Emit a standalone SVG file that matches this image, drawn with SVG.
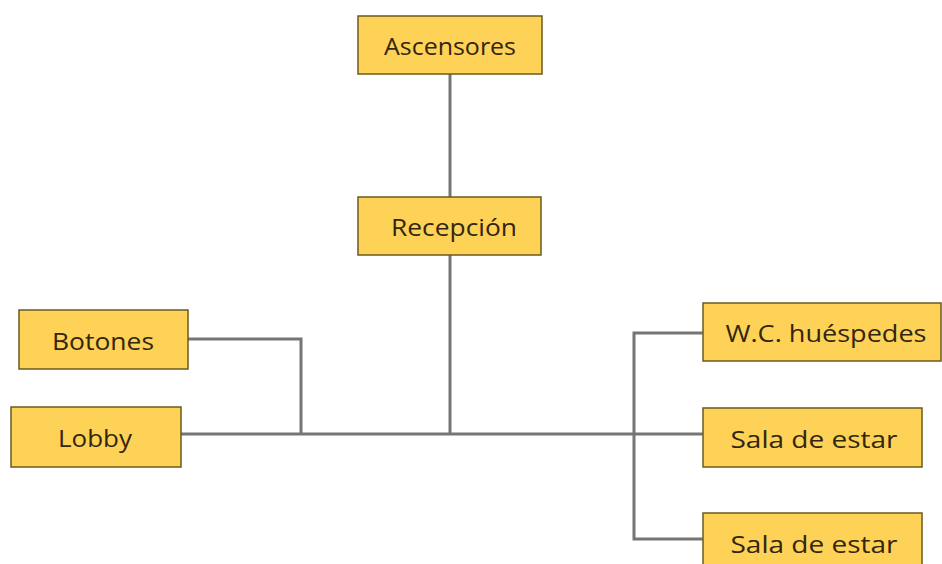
<svg xmlns="http://www.w3.org/2000/svg" width="942" height="564" viewBox="0 0 942 564">
<style>
.box{fill:#FDD257;stroke:#6b5a1e;stroke-width:1.5}
.lbl{font-family:"Open Sans","Liberation Sans",sans-serif;font-size:24px;fill:#33260f;text-anchor:middle;dominant-baseline:central}
.ln{fill:none;stroke:#757575;stroke-width:3}
</style>
<rect width="942" height="564" fill="#ffffff"/>
<g id="connectors">
<line class="ln" x1="450" y1="74" x2="450" y2="197"/>
<line class="ln" x1="450" y1="255" x2="450" y2="434"/>
<polyline class="ln" points="188,339 301,339 301,434"/>
<line class="ln" x1="181" y1="434" x2="703" y2="434"/>
<polyline class="ln" points="703,333 634,333 634,539 703,539"/>
</g>
<g id="ascensores"><rect class="box" x="358" y="16" width="184" height="58"/><text class="lbl" x="450" y="45" textLength="132" lengthAdjust="spacingAndGlyphs">Ascensores</text></g>
<g id="recepcion"><rect class="box" x="358" y="197" width="183" height="58"/><text class="lbl" x="454" y="226" textLength="126" lengthAdjust="spacingAndGlyphs">Recepción</text></g>
<g id="botones"><rect class="box" x="19" y="310" width="169" height="59"/><text class="lbl" x="103" y="340" textLength="102" lengthAdjust="spacingAndGlyphs">Botones</text></g>
<g id="lobby"><rect class="box" x="11" y="407" width="170" height="60"/><text class="lbl" x="95" y="437" textLength="74" lengthAdjust="spacingAndGlyphs">Lobby</text></g>
<g id="wc"><rect class="box" x="703" y="303" width="238" height="58"/><text class="lbl" x="826" y="332" textLength="201" lengthAdjust="spacingAndGlyphs">W.C. huéspedes</text></g>
<g id="sala1"><rect class="box" x="703" y="408" width="219" height="59"/><text class="lbl" x="814" y="438" textLength="167" lengthAdjust="spacingAndGlyphs">Sala de estar</text></g>
<g id="sala2"><rect class="box" x="703" y="513" width="219" height="60"/><text class="lbl" x="814" y="543" textLength="167" lengthAdjust="spacingAndGlyphs">Sala de estar</text></g>
</svg>
